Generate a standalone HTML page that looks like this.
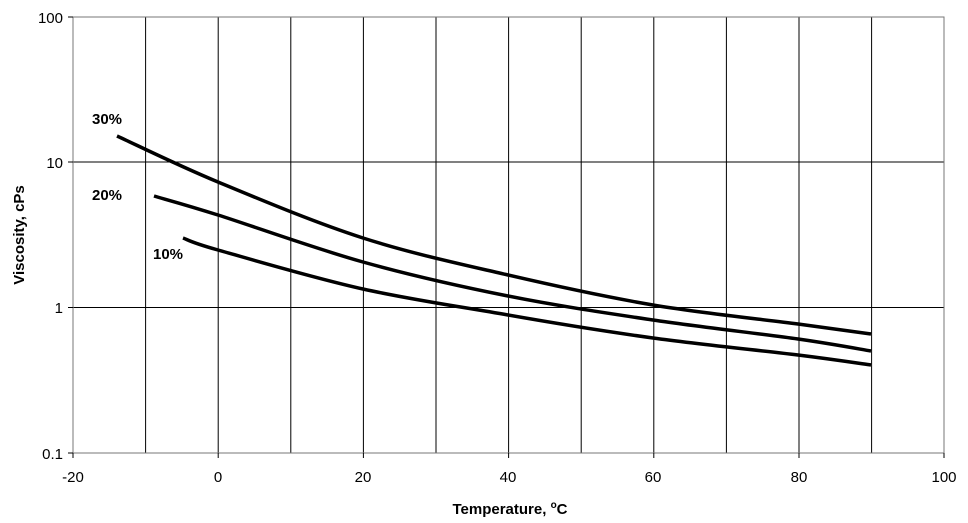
<!DOCTYPE html>
<html><head><style>body{margin:0;background:#fff}</style></head><body>
<svg width="968" height="518" xmlns="http://www.w3.org/2000/svg" font-family="Liberation Sans, sans-serif">
<rect x="0" y="0" width="968" height="518" fill="#fff"/>
<g stroke="#000" stroke-width="1">
<line x1="145.6" y1="17" x2="145.6" y2="453"/>
<line x1="218.2" y1="17" x2="218.2" y2="453"/>
<line x1="290.8" y1="17" x2="290.8" y2="453"/>
<line x1="363.4" y1="17" x2="363.4" y2="453"/>
<line x1="436" y1="17" x2="436" y2="453"/>
<line x1="508.6" y1="17" x2="508.6" y2="453"/>
<line x1="581.2" y1="17" x2="581.2" y2="453"/>
<line x1="653.8" y1="17" x2="653.8" y2="453"/>
<line x1="726.4" y1="17" x2="726.4" y2="453"/>
<line x1="799" y1="17" x2="799" y2="453"/>
<line x1="871.6" y1="17" x2="871.6" y2="453"/>
<line x1="73" y1="162" x2="944" y2="162"/>
<line x1="73" y1="307.5" x2="944" y2="307.5"/>
</g>
<rect x="73" y="17" width="871" height="436" fill="none" stroke="#777" stroke-width="1"/>
<g stroke="#000">
<line x1="68" y1="17" x2="73" y2="17"/><line x1="68" y1="162" x2="73" y2="162"/><line x1="68" y1="307.5" x2="73" y2="307.5"/><line x1="68" y1="453" x2="73" y2="453"/>
<line x1="73" y1="453" x2="73" y2="458"/><line x1="218.2" y1="453" x2="218.2" y2="458"/><line x1="363.4" y1="453" x2="363.4" y2="458"/><line x1="508.6" y1="453" x2="508.6" y2="458"/><line x1="653.8" y1="453" x2="653.8" y2="458"/><line x1="799" y1="453" x2="799" y2="458"/><line x1="944" y1="453" x2="944" y2="458"/>
</g>
<g fill="none" stroke="#000" stroke-width="3.5">
<path d="M117,136 C134,143.7 177,165 218,182 C259,199 314.7,222.5 363,238 C411.3,253.5 459.7,263.8 508,275 C556.3,286.2 604.7,296.8 653,305 C701.3,313.2 761.7,319.2 798,324 C834.3,328.8 859,332.3 871,334"/>
<path d="M154,196 C164.7,199.2 183.2,204 218,215 C252.8,226 314.7,248.5 363,262 C411.3,275.5 459.7,286.3 508,296 C556.3,305.7 604.7,312.8 653,320 C701.3,327.2 761.7,333.8 798,339 C834.3,344.2 859,349 871,351"/>
<path d="M183,238 C188.8,240 188,241.5 218,250 C248,258.5 314.7,278.2 363,289 C411.3,299.8 459.7,306.5 508,315 C556.3,323.5 604.7,331.3 653,338 C701.3,344.7 761.7,350.5 798,355 C834.3,359.5 859,363.3 871,365"/>
</g>
<g font-size="15" text-anchor="end">
<text x="63" y="23">100</text><text x="63" y="168">10</text><text x="63" y="313">1</text><text x="63" y="459">0.1</text>
</g>
<g font-size="15" text-anchor="middle">
<text x="73" y="482">-20</text><text x="218" y="482">0</text><text x="363" y="482">20</text><text x="508" y="482">40</text><text x="653" y="482">60</text><text x="799" y="482">80</text><text x="944" y="482">100</text>
</g>
<g font-size="15" font-weight="bold">
<text x="92" y="124">30%</text><text x="92" y="200">20%</text><text x="153" y="259">10%</text>
<text x="510" y="514" text-anchor="middle">Temperature, <tspan font-size="10" dy="-6">o</tspan><tspan dy="6">C</tspan></text>
<text transform="translate(24,235) rotate(-90)" text-anchor="middle">Viscosity, cPs</text>
</g>
</svg>
</body></html>
